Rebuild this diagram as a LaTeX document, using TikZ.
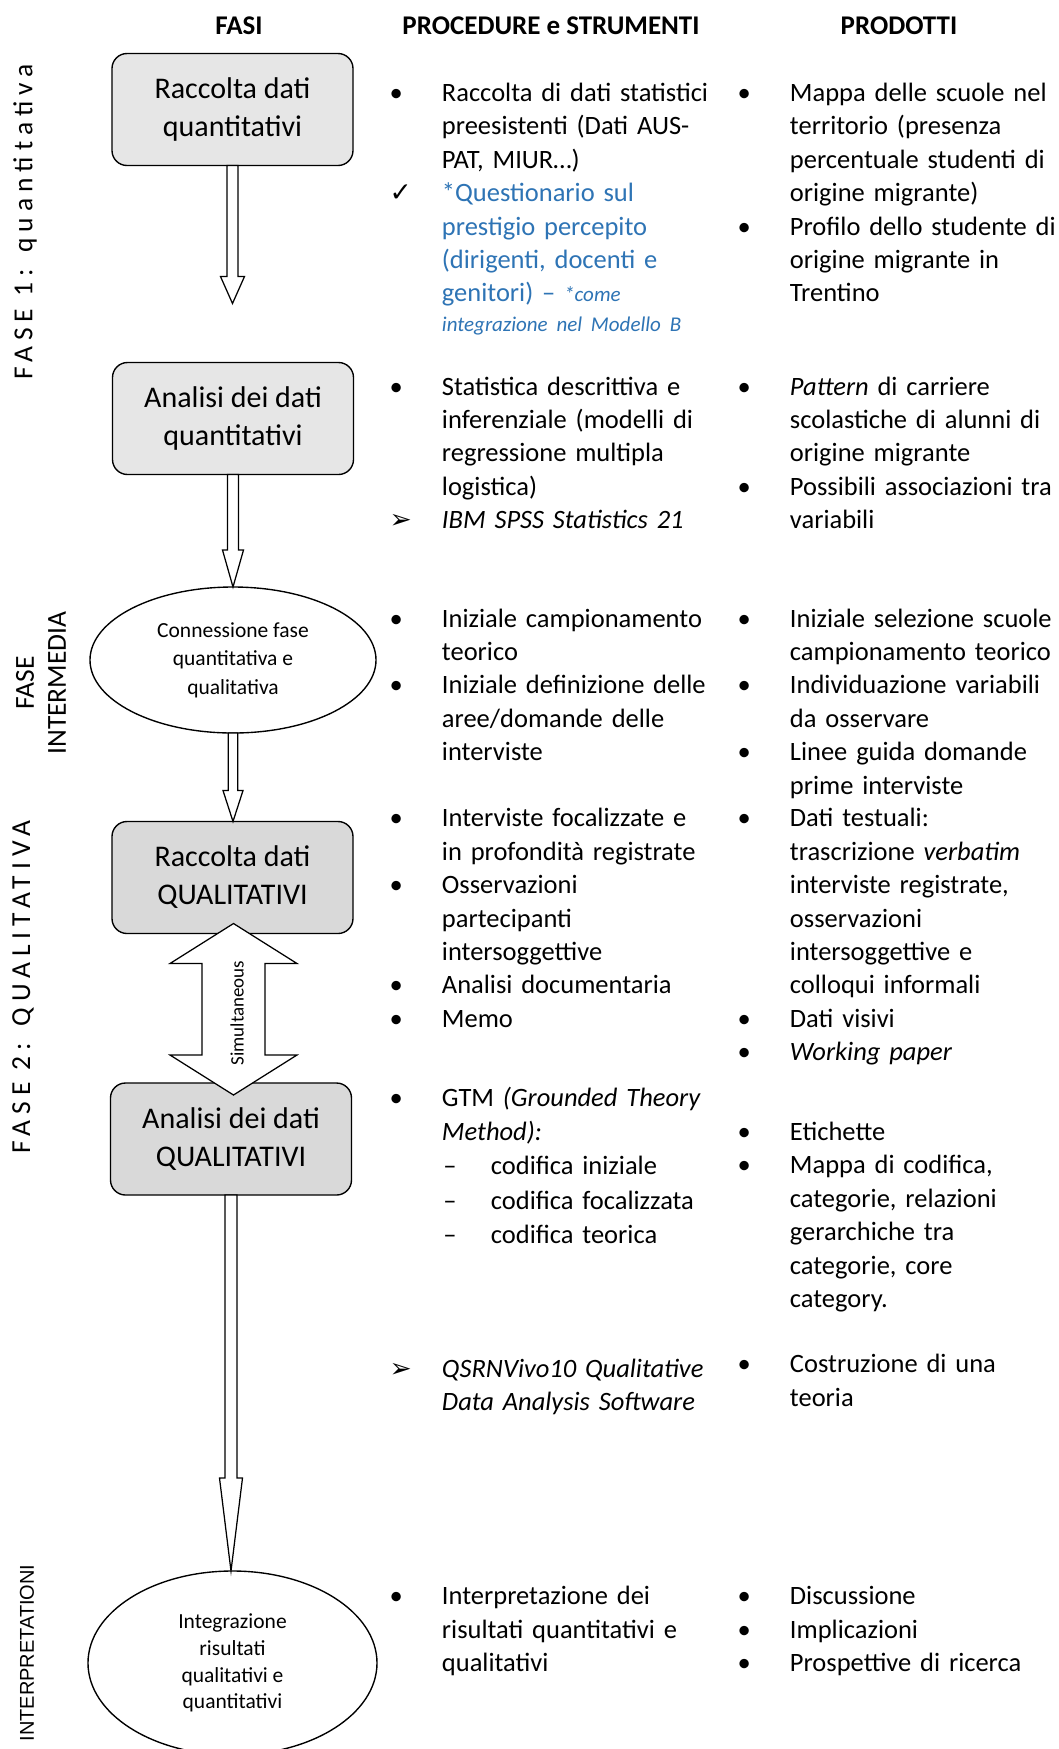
\documentclass[tikz,border=0pt]{standalone}
\usepackage{fontspec}
\setmainfont{Carlito}
\newfontfamily\symfont{DejaVu Sans}
\newfontfamily\arialfont{Liberation Sans}
\newfontfamily\spacedfont[LetterSpace=22]{Carlito}
\usepackage{tikz}
\usetikzlibrary{shapes.geometric}
\usetikzlibrary{calc}
\usetikzlibrary{positioning}
\definecolor{quantgray}{HTML}{E6E6E6}
\definecolor{qualgray}{HTML}{D9D9D9}
\definecolor{noteblue}{HTML}{2E74B5}

\newcommand{\itm}[2]{\noindent\hangindent=20.9pt\hangafter=1\makebox[20.9pt][l]{\strut#1}#2\par}
\newcommand{\subitm}[1]{{\fontsize{10.6}{13.8}\selectfont\noindent\hspace*{21.5pt}\makebox[19pt][l]{\strut--}#1\par}}
\newcommand{\bul}{\textbullet}
\newcommand{\chk}{{\symfont ✓}}
\newcommand{\arw}{{\symfont ➢}}
\newcommand{\fatarrow}[5]{%
  \draw[fatline] let \p1=(#1), \p2=(#2) in
    (\x1-#3,\y1) -- (\x1-#3,\y2+#5) -- (\x1-#4,\y2+#5) -- (\x1,\y2)
    -- (\x1+#4,\y2+#5) -- (\x1+#3,\y2+#5) -- (\x1+#3,\y1) -- cycle;}

\begin{document}
\begin{tikzpicture}[x=0.4pt,y=-0.4pt,
  fasebox/.style={draw,rounded corners=6pt,line width=0.55pt,minimum width=96.4pt,minimum height=44.8pt,align=center,inner sep=0pt,outer sep=0pt,font=\fontsize{12}{15.2}\selectfont},
  fasering/.style={draw,ellipse,line width=0.55pt,align=center,inner sep=0pt,outer sep=0pt,font=\fontsize{8.6}{11.4}\selectfont},
  colhead/.style={inner sep=0pt,font=\fontsize{10.8}{13}\selectfont\bfseries},
  coltext/.style={anchor=north west,inner sep=0pt,outer sep=0pt,align=left,text width=150pt,font=\fontsize{10.6}{13.36}\selectfont},
  sidelabel/.style={rotate=90,inner sep=0pt,align=center,font=\spacedfont\fontsize{11}{13}\selectfont},
  fatline/.style={draw,fill=white,line width=0.5pt,line join=miter}]
\path[use as bounding box,fill=white] (0,0) rectangle (1059,1749);

\node[colhead] (hfasi) at (239,26) {FASI};
\node[colhead] (hproc) at (551,26) {PROCEDURE e STRUMENTI};
\node[colhead] (hprod) at (899,26) {PRODOTTI};

\node[sidelabel] (fase1) at (25,222) {FASE 1: quantitativa};
\node[rotate=90,align=center,inner sep=0pt,font=\fontsize{11}{12.8}\selectfont] (fasemid) at (41,683) {FASE\\INTERMEDIA};
\node[sidelabel] (fase2) at (23,987) {FASE 2: QUALITATIVA};
\node[rotate=90,inner sep=0pt,font=\arialfont\fontsize{8}{10}\selectfont] (interp) at (27,1653) {INTERPRETATIONI};

\node[fasebox,fill=quantgray] (b1) at (232.5,109.5) {Raccolta dati\\quantitativi};
\node[fasebox,fill=quantgray] (b2) at (233,418.5) {Analisi dei dati\\quantitativi};
\node[fasering,minimum width=114.4pt,minimum height=58.4pt] (e1) at (233,660) {Connessione fase\\quantitativa e\\qualitativa};
\node[fasebox,fill=qualgray] (b3) at (232.5,877.5) {Raccolta dati\\QUALITATIVI};
\node[fasebox,fill=qualgray] (b4) at (231,1139) {Analisi dei dati\\QUALITATIVI};
\node[fasering,minimum width=115.6pt,minimum height=73.6pt,font=\fontsize{8.6}{10.7}\selectfont] (e2) at (232.5,1663) {Integrazione\\risultati\\qualitativi e\\quantitativi};

\coordinate (q1end) at ($(b1.south)+(0,138)$);
\fatarrow{b1.south}{q1end}{2.2pt}{4.8pt}{10.8pt}
\fatarrow{b2.south}{e1.north}{2.2pt}{4.2pt}{14.8pt}
\fatarrow{e1.south}{b3.north}{1.9pt}{4pt}{12.4pt}
\fatarrow{b4.south}{e2.north}{2.4pt}{4.6pt}{37.2pt}

\coordinate (simtop) at ($(b3.south)+(1,-10)$);
\coordinate (simbot) at ($(simtop |- b4.north)+(0,12)$);
\draw[fatline] (simtop) -- ++(63.5,40) -- ++(-32,0) -- ($(simbot)+(31.5,-40)$) -- ++(32,0)
  -- (simbot) -- ++(-63.5,-40) -- ++(32,0) -- ($(simtop)+(-31.5,40)$) -- ++(-32,0) -- cycle;
\node[rotate=90,inner sep=0pt,font=\fontsize{7.6}{9}\selectfont] (simtxt) at (237,1013) {Simultaneous};

\node[coltext] (proc1) at (389.7,78.2) {%
\itm{\bul}{Raccolta di dati statistici\newline preesistenti (Dati AUS-\newline PAT, MIUR…)}
\itm{\chk}{\textcolor{noteblue}{*Questionario sul\newline prestigio percepito\newline (dirigenti, docenti e\newline genitori) – {\fontsize{8.4}{10}\selectfont\itshape *come}}}
{\fontsize{8.4}{12}\selectfont\noindent\hspace*{20.9pt}\textcolor{noteblue}{\itshape integrazione nel Modello B}\par}};
\node[coltext] (proc2) at (389.7,371.7) {%
\itm{\bul}{Statistica descrittiva e\newline inferenziale (modelli di\newline regressione multipla\newline logistica)}
\itm{\arw}{\textit{IBM SPSS Statistics 21}}};
\node[coltext] (proc3) at (389.7,603.8) {%
\itm{\bul}{Iniziale campionamento\newline teorico}
\itm{\bul}{Iniziale definizione delle\newline aree/domande delle\newline interviste}};
\node[coltext] (proc4) at (389.7,803.6) {%
\itm{\bul}{Interviste focalizzate e\newline in profondità registrate}
\itm{\bul}{Osservazioni\newline partecipanti\newline intersoggettive}
\itm{\bul}{Analisi documentaria}
\itm{\bul}{Memo}};
\node[coltext] (proc5) at (389.7,1083.6) {%
\itm{\bul}{GTM \textit{(Grounded Theory\newline Method):}}
\subitm{codifica iniziale}
\subitm{codifica focalizzata}
\subitm{codifica teorica}};
\node[coltext] (proc6) at (389.7,1353.7) {%
\itm{\arw}{\textit{QSRNVivo10 Qualitative\newline Data Analysis Software}}};
\node[coltext] (proc7) at (389.7,1581.3) {%
\itm{\bul}{Interpretazione dei\newline risultati quantitativi e\newline qualitativi}};

\node[coltext,text width=140pt] (prod1) at (737.7,78.2) {%
\itm{\bul}{Mappa delle scuole nel\newline territorio (presenza\newline percentuale studenti di\newline origine migrante)}
\itm{\bul}{Profilo dello studente di\newline origine migrante in\newline Trentino}};
\node[coltext,text width=140pt] (prod2) at (737.7,371.7) {%
\itm{\bul}{\textit{Pattern} di carriere\newline scolastiche di alunni di\newline origine migrante}
\itm{\bul}{Possibili associazioni tra\newline variabili}};
\node[coltext,text width=140pt] (prod3) at (737.7,603.8) {%
\itm{\bul}{Iniziale selezione scuole\newline campionamento teorico}
\itm{\bul}{Individuazione variabili\newline da osservare}
\itm{\bul}{Linee guida domande\newline prime interviste}};
\node[coltext,text width=140pt] (prod4) at (737.7,803.6) {%
\itm{\bul}{Dati testuali:\newline trascrizione \textit{verbatim}\newline interviste registrate,\newline osservazioni\newline intersoggettive e\newline colloqui informali}
\itm{\bul}{Dati visivi}
\itm{\bul}{\textit{Working paper}}};
\node[coltext,text width=140pt] (prod5) at (737.7,1117.1) {%
\itm{\bul}{Etichette}
\itm{\bul}{Mappa di codifica,\newline categorie, relazioni\newline gerarchiche tra\newline categorie, core\newline category.}};
\node[coltext,text width=140pt] (prod6) at (737.7,1349.2) {%
\itm{\bul}{Costruzione di una\newline teoria}};
\node[coltext,text width=140pt] (prod7) at (737.7,1581.3) {%
\itm{\bul}{Discussione}
\itm{\bul}{Implicazioni}
\itm{\bul}{Prospettive di ricerca}};
\end{tikzpicture}
\end{document}
